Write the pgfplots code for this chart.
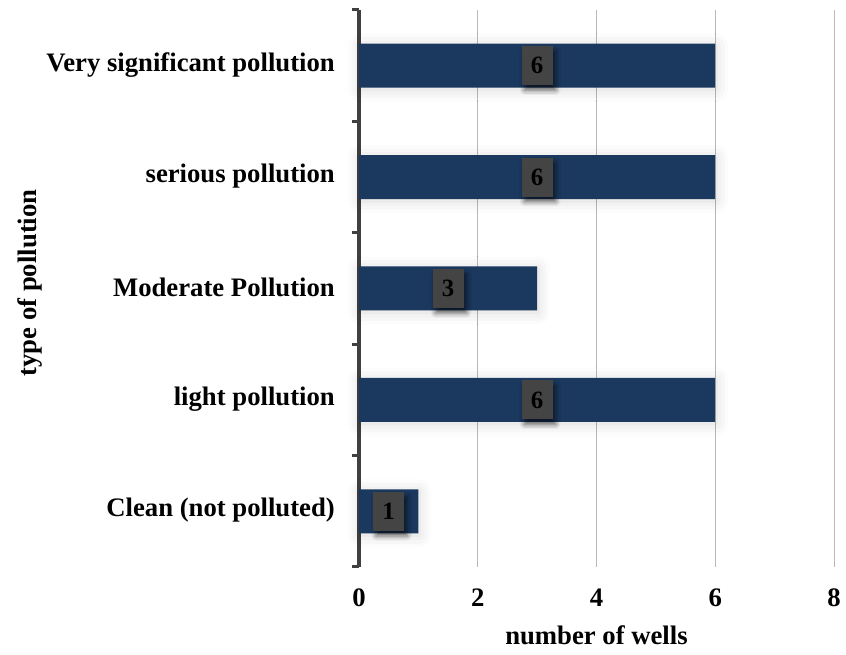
\documentclass[border=0pt]{standalone}
\usepackage{pgfplots}
\pgfplotsset{compat=1.18}
\usepackage{fontspec}
\setmainfont{Liberation Serif}
\usetikzlibrary{shadows.blur}
\definecolor{barblue}{RGB}{27,56,94}
\definecolor{axisgray}{RGB}{64,64,64}
\definecolor{boxgray}{RGB}{68,68,68}

\begin{document}
\begin{tikzpicture}
\begin{axis}[
  name=ax,
  scale only axis,
  width=475bp, height=557bp,
  xmin=0, xmax=8,
  ymin=-0.5, ymax=4.5,
  xtick={0,2,4,6,8},
  ytick={0,1,2,3,4},
  yticklabels={Clean (not polluted),light pollution,Moderate Pollution,serious pollution,Very significant pollution},
  minor ytick={-0.5,0.5,1.5,2.5,3.5,4.5},
  major tick length=0pt,
  minor tick length=7bp,
  tick align=outside,
  minor tick style={axisgray, line width=3bp},
  axis y line*=left,
  axis x line*=bottom,
  x axis line style={draw=none},
  y axis line style={axisgray, line width=3.2bp},
  xmajorgrids,
  major grid style={gray!55, line width=0.8bp},
  ticklabel style={font=\fontsize{26.8}{30}\selectfont\bfseries, inner sep=0pt},
  /pgf/number format/assume math mode=true,
  yticklabel style={anchor=east, xshift=-24bp, yshift=1bp},
  xticklabel style={anchor=base, yshift=-40bp},
  xlabel={number of wells},
  ylabel={type of pollution},
  label style={font=\fontsize{26.8}{30}\selectfont\bfseries, inner sep=0pt},
  xlabel style={at={(axis description cs:0.5,0)}, anchor=base, yshift=-78bp},
  ylabel style={at={(axis description cs:0,0.51)}, rotate=0, anchor=base, yshift=322bp},
  clip=false,
]
\addplot[xbar, bar width=44bp, fill=barblue, draw=none,
  blur shadow={shadow xshift=1bp, shadow yshift=-2bp, shadow blur radius=12bp, shadow opacity=16}]
  coordinates {(1,0) (6,1) (3,2) (6,3) (6,4)};
% value badges sit at the middle of each bar
\addplot[only marks, mark=none, point meta=explicit symbolic,
  nodes near coords,
  every node near coord/.style={anchor=center, fill=boxgray, text=black,
    minimum width=31bp, minimum height=39bp, inner sep=0pt,
    font=\fontsize{25}{27}\selectfont\bfseries,
    blur shadow={shadow xshift=3bp, shadow yshift=-5bp, shadow blur radius=5bp, shadow opacity=60}}]
  coordinates {(0.5,0) [1] (3,1) [6] (1.5,2) [3] (3,3) [6] (3,4) [6]};
\end{axis}
\pgfresetboundingbox
\path[use as bounding box] ([xshift=-359bp,yshift=-88bp]ax.south west) rectangle ([xshift=12bp,yshift=10bp]ax.north east);
\end{tikzpicture}
\end{document}
